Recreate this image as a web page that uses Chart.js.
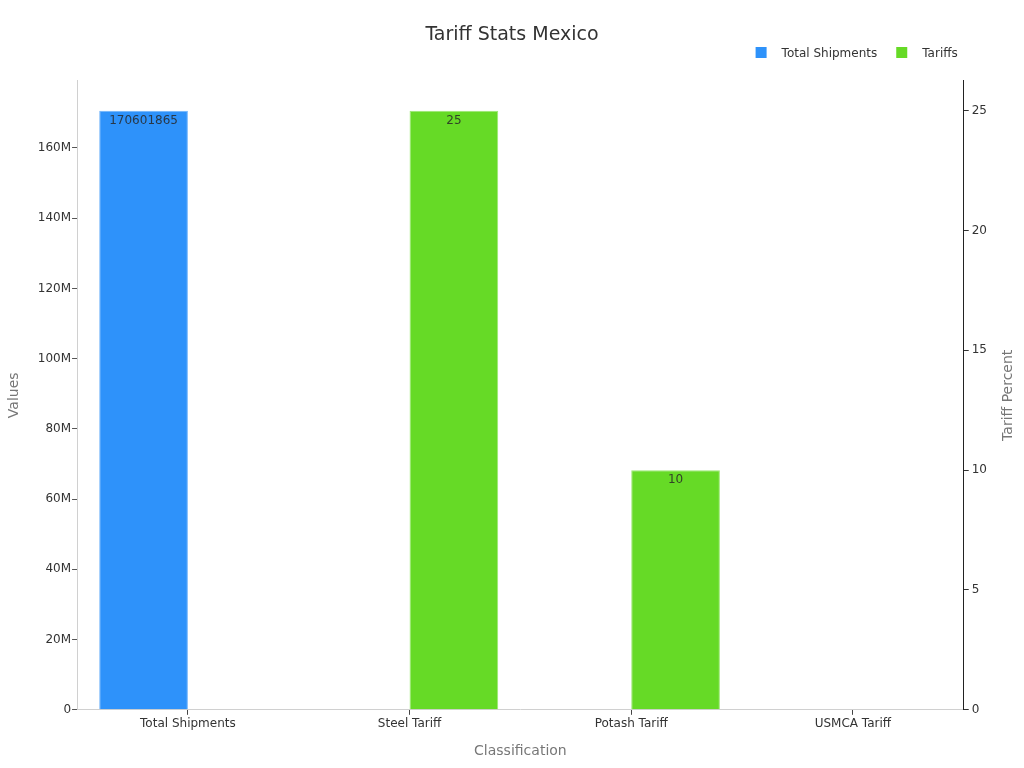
<!DOCTYPE html>
<html>
<head>
<meta charset="utf-8">
<script src="https://cdn.jsdelivr.net/npm/chart.js@4"></script>
<style>
  html, body { margin: 0; padding: 0; background: #fff; }
  #wrap { width: 1024px; height: 768px; position: relative; }
</style>
</head>
<body>
<div id="wrap"><canvas id="chart"></canvas></div>
<script>
/* ── Data ── */
const categories = ['Total Shipments', 'Steel Tariff', 'Potash Tariff', 'USMCA Tariff'];
const shipments = [170601865, null, null, null];
const tariffs = [null, 25, 10, null];
const leftTicks = [0, 20e6, 40e6, 60e6, 80e6, 100e6, 120e6, 140e6, 160e6];
const rightTicks = [0, 5, 10, 15, 20, 25];

/* ── Styles ── */
const FONT = "'DejaVu Sans', sans-serif";
const BLUE = '#2e92fa';
const GREEN = '#66da26';
const TEXT = '#333333';
const MUTED = '#777777';

/* value labels inside the top of each bar */
const barLabels = {
    id: 'barLabels',
    afterDatasetsDraw(chart) {
        const ctx = chart.ctx;
        ctx.save();
        ctx.font = `12px ${FONT}`;
        ctx.fillStyle = 'rgba(40,40,40,0.85)';
        ctx.textAlign = 'center';
        ctx.textBaseline = 'top';
        chart.data.datasets.forEach((ds, i) => {
            chart.getDatasetMeta(i).data.forEach((bar, j) => {
                const v = ds.data[j];
                if (v == null) return;
                ctx.fillText(String(v), bar.x, bar.y + 4);
            });
        });
        ctx.restore();
    }
};

/* legend above the plot, right-aligned, plus the right axis title read bottom-to-top */
const extras = {
    id: 'extras',
    afterDraw(chart) {
        const ctx = chart.ctx;
        const area = chart.chartArea;
        ctx.save();
        ctx.font = `12px ${FONT}`;
        ctx.textBaseline = 'middle';
        const y = 53;
        const items = chart.data.datasets.map(ds => ({ text: ds.label, color: ds.backgroundColor }));
        const widths = items.map(it => 11 + 15 + ctx.measureText(it.text).width);
        const gap = 19;
        let x = area.right - 6 - widths.reduce((a, b) => a + b, 0) - gap * (items.length - 1);
        items.forEach((it, i) => {
            ctx.fillStyle = it.color;
            ctx.fillRect(x, y - 6, 11, 11);
            ctx.fillStyle = TEXT;
            ctx.textAlign = 'left';
            ctx.fillText(it.text, x + 26, y + 1);
            x += widths[i] + gap;
        });

        ctx.font = `14px ${FONT}`;
        ctx.fillStyle = MUTED;
        ctx.textAlign = 'center';
        ctx.translate(1008, (area.top + area.bottom) / 2);
        ctx.rotate(-Math.PI / 2);
        ctx.fillText('Tariff Percent', 0, 0);
        ctx.restore();
    }
};

new Chart(document.getElementById('chart'), {
    type: 'bar',
    data: {
        labels: categories,
        datasets: [
            {
                label: 'Total Shipments',
                data: shipments,
                backgroundColor: BLUE,
                borderColor: '#6fb3fb',
                borderWidth: 1,
                yAxisID: 'y',
                categoryPercentage: 0.8,
                barPercentage: 1
            },
            {
                label: 'Tariffs',
                data: tariffs,
                backgroundColor: GREEN,
                borderColor: '#9be873',
                borderWidth: 1,
                yAxisID: 'y1',
                categoryPercentage: 0.8,
                barPercentage: 1
            }
        ]
    },
    options: {
        responsive: true,
        maintainAspectRatio: false,
        animation: false,
        layout: { padding: { left: 2, right: 2, top: 8, bottom: 4 } },
        plugins: {
            title: {
                display: true,
                text: 'Tariff Stats Mexico',
                color: TEXT,
                font: { family: FONT, size: 19, weight: 'normal' },
                padding: { top: 16, bottom: 34 }
            },
            legend: { display: false },
            tooltip: { enabled: false }
        },
        scales: {
            x: {
                grid: { display: true, drawOnChartArea: false, drawTicks: true, tickLength: 5, color: '#444', offset: false },
                border: { display: true, color: '#d0d0d0' },
                ticks: { color: TEXT, font: { family: FONT, size: 12 }, padding: 2 },
                title: { display: true, text: 'Classification', color: MUTED, font: { family: FONT, size: 14 }, padding: { top: 10 } }
            },
            y: {
                position: 'left',
                min: 0,
                max: Math.max(...shipments.filter(v => v != null)) * 1.05,
                afterBuildTicks: axis => { axis.ticks = leftTicks.map(v => ({ value: v })); },
                grid: { display: true, drawOnChartArea: false, drawTicks: true, tickLength: 5, color: '#555' },
                border: { display: true, color: '#d0d0d0' },
                ticks: {
                    color: TEXT,
                    font: { family: FONT, size: 12 },
                    padding: 1,
                    callback: v => v === 0 ? '0' : `${v / 1e6}M`
                },
                title: { display: true, text: 'Values', color: MUTED, font: { family: FONT, size: 14 }, padding: { bottom: 14 } }
            },
            y1: {
                position: 'right',
                min: 0,
                max: Math.max(...tariffs.filter(v => v != null)) * 1.05,
                afterBuildTicks: axis => { axis.ticks = rightTicks.map(v => ({ value: v })); },
                afterFit: axis => { axis.width += 32; },
                grid: { display: true, drawOnChartArea: false, drawTicks: true, tickLength: 5, color: '#333' },
                border: { display: true, color: '#222' },
                ticks: { color: TEXT, font: { family: FONT, size: 12 }, padding: 3 }
            }
        }
    },
    plugins: [barLabels, extras]
});
</script>
</body>
</html>
